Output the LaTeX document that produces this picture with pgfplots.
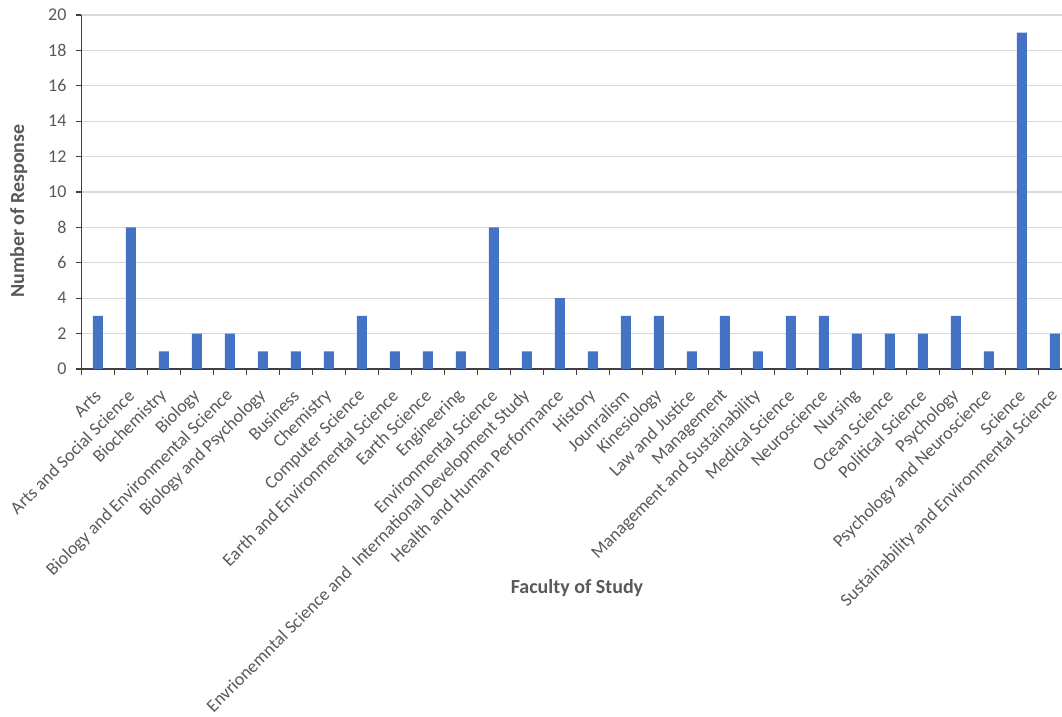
\documentclass[border=0pt]{standalone}
\usepackage{fontspec}
\setmainfont{Carlito}
\usepackage{pgfplots}
\usepackage{pgfplotstable}
\pgfplotsset{compat=1.18}

\definecolor{barblue}{HTML}{4472C4}
\definecolor{txtgray}{HTML}{595959}
\definecolor{gridgray}{HTML}{D9D9D9}
\definecolor{axisgray}{HTML}{404040}

% responses per faculty of study (categories in order 0..29)
\pgfplotstableread{
x n
0 3
1 8
2 1
3 2
4 2
5 1
6 1
7 1
8 3
9 1
10 1
11 1
12 8
13 1
14 4
15 1
16 3
17 3
18 1
19 3
20 1
21 3
22 3
23 2
24 2
25 2
26 3
27 1
28 19
29 2
}\facultydata

\begin{document}
\begin{tikzpicture}
\useasboundingbox (-40.75pt,-174pt) rectangle (490.25pt,184.5pt);
\clip (-40.75pt,-174pt) rectangle (490.25pt,184.5pt);
\begin{axis}[
  at={(0pt,0pt)}, anchor=south west,
  scale only axis, width=495pt, height=177pt,
  xmin=-0.5, xmax=29.5, ymin=0, ymax=20,
  axis x line*=bottom, axis y line*=left,
  axis line style={axisgray, line width=0.65pt},
  ytick={0,2,...,20},
  ymajorgrids,
  major grid style={gridgray, line width=0.65pt},
  tick align=outside,
  major tick length=2.5pt,
  minor tick length=3pt,
  major y tick style={axisgray, line width=0.65pt},
  major x tick style={draw=none},
  minor xtick={-0.5,0.5,...,29.5},
  minor x tick style={axisgray, line width=0.65pt},
  xtick={0,...,29},
  xticklabels={Arts, Arts and Social Science, Biochemistry, Biology,
    Biology and Environmental Science, Biology and Psychology, Business,
    Chemistry, Computer Science, Earth and Environmental Science,
    Earth Science, Engineering, Environmental Science,
    Envrionemntal Science and~~International Development Study,
    Health and Human Performance, History, Jounralism, Kinesiology,
    Law and Justice, Management, Management and Sustainability,
    Medical Science, Neuroscience, Nursing, Ocean Science,
    Political Science, Psychology, Psychology and Neuroscience,
    Science, Sustainability and Environmental Science},
  xticklabel style={xshift=2.5pt, yshift=-7pt, rotate=45, anchor=east,
    text=txtgray, font=\fontsize{9}{10.8}\selectfont},
  yticklabel style={xshift=-1.5pt, text=txtgray,
    font=\fontsize{9}{10.8}\selectfont},
  /pgf/number format/assume math mode=true,
  xlabel={Faculty of Study},
  ylabel={Number of Response},
  xlabel style={at={(axis description cs:0.5005,-0.619)}, anchor=center,
    text=txtgray, font=\fontsize{10}{12}\selectfont\bfseries},
  ylabel style={at={(axis description cs:-0.0635,0.446)}, anchor=center,
    text=txtgray, font=\fontsize{10}{12}\selectfont\bfseries},
]
\addplot[ybar, bar width=5pt, fill=barblue, draw=none]
  table[x=x, y=n]{\facultydata};
\end{axis}
\end{tikzpicture}
\end{document}
